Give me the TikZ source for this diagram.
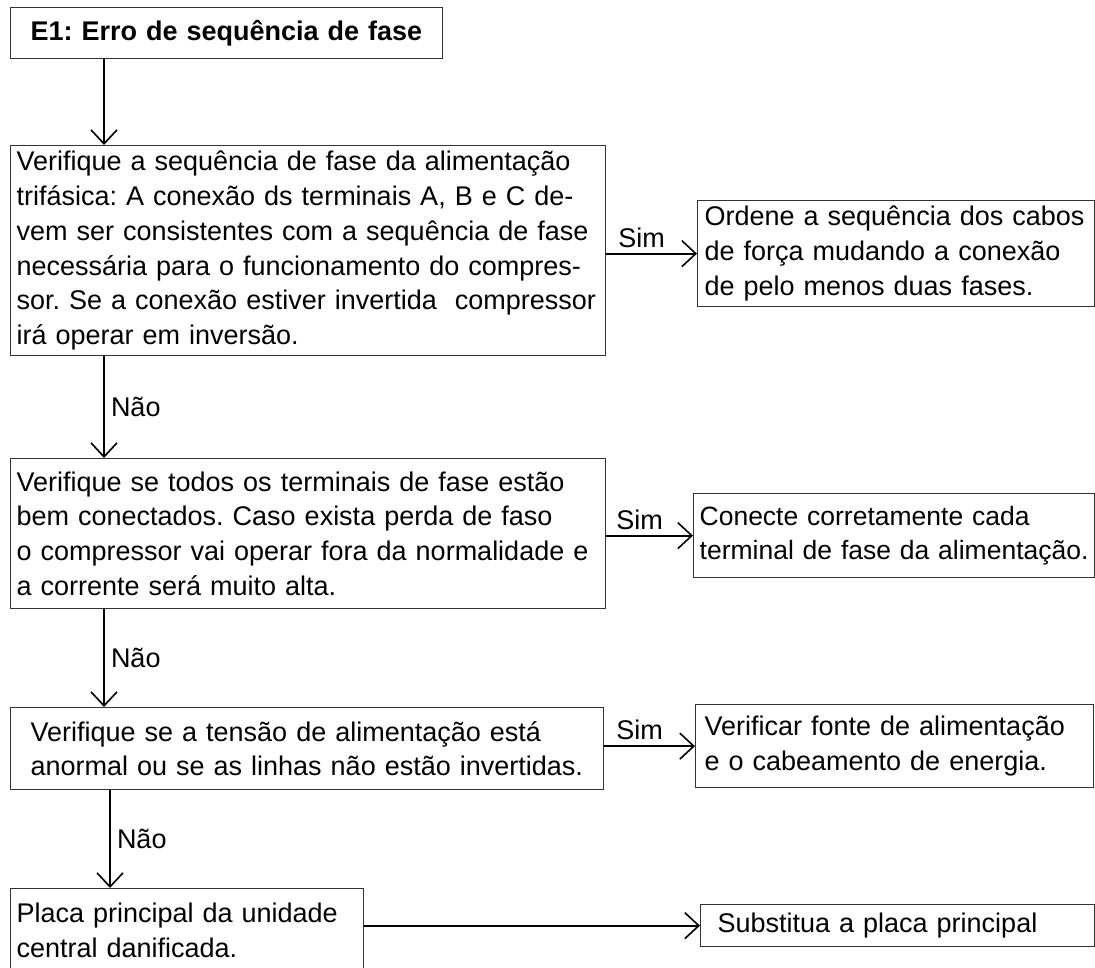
\documentclass[tikz,border=0pt]{standalone}
\usepackage{fontspec}
\setmainfont{Liberation Sans}
\usetikzlibrary{arrows.meta,positioning}
\newcommand{\bodyfont}{\fontsize{27}{34.8}\selectfont}
\newcommand{\titlefont}{\fontsize{27}{32}\selectfont\bfseries}
\tikzset{
  stepbox/.style={draw=black!80, line width=1.3pt, anchor=north west, align=left,
    inner ysep=0pt, font=\bodyfont,
    execute at begin node={\frenchspacing\hyphenpenalty=10000}},
  conn/.style={line width=2pt, -{Straight Barb[length=14pt,width=26pt,line width=1.6pt]}},
  lbl/.style={font=\bodyfont, inner sep=0pt}
}
\begin{document}
\begin{tikzpicture}[x=1pt,y=-1pt]
    \useasboundingbox (0,0) rectangle (1095,968);
    \clip (0,0) rectangle (1095,968);

    % Left column
    \node[stepbox, font=\titlefont, inner xsep=20pt, text width=392pt, minimum height=51pt] (e1) at (10,7)
        {E1: Erro de sequência de fase};
    \node[stepbox, inner xsep=6pt, text width=583pt, minimum height=210pt] (seqfase) at (10,145)
        {Verifique a sequência de fase da alimentação\\
         trifásica: A conexão ds terminais A, B e C de-\\
         vem ser consistentes com a sequência de fase\\
         necessária para o funcionamento do compres-\\
         sor. Se a conexão estiver invertida\ \ compressor\\
         irá operar em inversão.};
    \node[stepbox, inner xsep=6pt, text width=583pt, minimum height=150pt] (terminais) at (10,458)
        {Verifique se todos os terminais de fase estão\\
         bem conectados. Caso exista perda de faso\\
         o compressor vai operar fora da normalidade e\\
         a corrente será muito alta.};
    \node[stepbox, inner xsep=20pt, text width=553pt, minimum height=82pt] (tensao) at (10,707)
        {Verifique se a tensão de alimentação está\\
         anormal ou se as linhas não estão invertidas.};
    \node[stepbox, inner xsep=6pt, text width=341pt, minimum height=84pt] (placa) at (10,888)
        {Placa principal da unidade\\
         central danificada.};

    % Right column
    \node[stepbox, inner xsep=7pt, text width=383pt, minimum height=106pt] (ordene) at (697,200)
        {Ordene a sequência dos cabos\\
         de força mudando a conexão\\
         de pelo menos duas fases.};
    \node[stepbox, font=\fontsize{26.5}{34.8}\selectfont, inner xsep=6pt, text width=389pt,
          minimum height=84pt] (conecte) at (693,493)
        {Conecte corretamente cada\\
         terminal de fase da alimentação.};
    \node[stepbox, inner xsep=9pt, text width=380pt, minimum height=83pt] (fonte) at (695,704)
        {Verificar fonte de alimentação\\
         e o cabeamento de energia.};
    \node[stepbox, inner xsep=17pt, text width=360pt, minimum height=42pt] (subst) at (700,904)
        {Substitua a placa principal};

    % Connectors down
    \draw[conn] ([xshift=94pt]e1.south west) -- ([xshift=94pt]seqfase.north west);
    \draw[conn] ([xshift=94pt]seqfase.south west) -- node[lbl, right=6pt] {Não} ([xshift=94pt]terminais.north west);
    \draw[conn] ([xshift=94pt]terminais.south west) -- node[lbl, right=6pt] {Não} ([xshift=94pt]tensao.north west);
    \draw[conn] ([xshift=100pt]tensao.south west) -- node[lbl, right=6pt] {Não} ([xshift=100pt]placa.north west);

    % Connectors right
    \draw[conn] (seqfase.east |- ordene.west) -- node[lbl, above=5pt, xshift=-10pt] {Sim} (ordene.west);
    \draw[conn] (terminais.east |- conecte.west) -- node[lbl, above=5pt, xshift=-10pt] {Sim} (conecte.west);
    \draw[conn] (tensao.east |- fonte.west) -- node[lbl, above=5pt, xshift=-10pt] {Sim} (fonte.west);
    \draw[conn] (placa.east |- subst.west) -- (subst.west);
\end{tikzpicture}
\end{document}
